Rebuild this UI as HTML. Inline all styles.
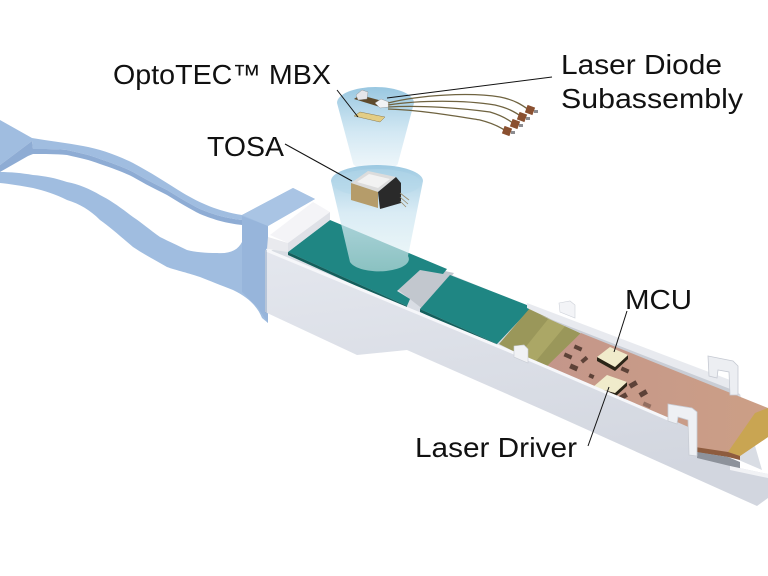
<!DOCTYPE html>
<html><head><meta charset="utf-8">
<style>
html,body{margin:0;padding:0;background:#fff;}
svg{display:block;}
text{font-family:"Liberation Sans",sans-serif;fill:#111;font-size:28px;}
</style></head><body>
<svg width="768" height="576" viewBox="0 0 768 576" xmlns="http://www.w3.org/2000/svg">
<defs>
<linearGradient id="face" x1="0" y1="0" x2="0.25" y2="1">
<stop offset="0" stop-color="#e4e7ee"/><stop offset="1" stop-color="#d2d6df"/>
</linearGradient>
<linearGradient id="cone" x1="0" y1="0" x2="0" y2="1">
<stop offset="0" stop-color="#93c4df" stop-opacity="0.95"/>
<stop offset="0.55" stop-color="#cbe4f1" stop-opacity="0.85"/>
<stop offset="1" stop-color="#eaf4f9" stop-opacity="0.75"/>
</linearGradient>
<linearGradient id="cone2" x1="0" y1="0" x2="0" y2="1">
<stop offset="0" stop-color="#97c6e0" stop-opacity="0.95"/>
<stop offset="0.45" stop-color="#d0e7f2" stop-opacity="0.8"/>
<stop offset="1" stop-color="#e2f2f4" stop-opacity="0.55"/>
</linearGradient>
<linearGradient id="copper" x1="0" y1="0" x2="1" y2="0">
<stop offset="0" stop-color="#c4968a"/><stop offset="1" stop-color="#cc9f86"/>
</linearGradient>
</defs>

<!-- blue pull tab -->
<path fill="#a0bde0" fill-rule="evenodd" d="
M0,120 L32,138 C50,141 67,143 83,146 C100,149 117,155 133,163 C150,172 167,183 183,193 C200,203 217,211 242,215 L293,188 L315,199 L268,226 L268,323 L262,318 C258,308 250,298 233,290 C220,285 210,281 200,277 C185,272 175,270 167,267 C155,260 145,255 133,247 C120,236 110,227 100,220 C90,210 80,204 67,200 C55,194 45,191 33,188 C22,186 10,184 0,183 Z
M0,165 L32,141 L33,149 C45,149 55,149 67,150 C80,153 90,155 100,159 C115,164 125,168 133,172 C145,179 155,184 167,190 C180,198 190,204 200,209 C215,215 225,218 242,220 L242,242 C238,250 230,254 217,253 C205,253 195,252 187,250 C177,245 170,242 160,237 C150,230 142,223 133,217 C120,207 110,200 100,195 C90,189 78,184 67,182 C55,178 45,176 33,175 C22,173 10,172 0,172 Z"/>
<!-- inner side face of upper arm -->
<path fill="#8eacd4" d="M33,149 C45,149 55,149 67,150 C80,153 90,155 100,159 C115,164 125,168 133,172 C145,179 155,184 167,190 C180,198 190,204 200,209 C215,215 225,218 242,220 L242,225 C225,223 215,220 200,214 C190,209 180,203 167,195 C155,189 145,184 133,177 C125,173 115,169 100,164 C90,160 80,158 67,155 C55,154 45,154 33,154 Z"/>
<polygon fill="#8eacd4" points="32,141 33,149 33,154 28,156 0,172 0,165"/>
<!-- block faces -->
<polygon fill="#97b5db" points="242,216 268,226 268,323 258,308 242,292"/>
<polygon fill="#a9c4e4" points="242,215 293,188 315,199 268,226"/>

<!-- interior floor -->
<polygon fill="#d9dde4" points="268,252 330,224 447,273 530,307 740,394 762,470 268,258"/>
<!-- gap between boards -->
<polygon fill="#c2c7ce" points="397,289 422,266 454,273 424,310"/>
<!-- teal board 1 -->
<polygon fill="#1f8683" points="288,252 330,220 447,269 443,274 420,270 397,291 410,299 407,306"/>
<polygon fill="#145f5c" points="288,252 407,306 407,309 288,255"/>
<!-- teal board 2 -->
<polygon fill="#1f8683" points="420,309 450,275 532,307 497,344"/>
<polygon fill="#145f5c" points="420,309 497,344 497,347 420,312"/>
<!-- olive -->
<polygon fill="#9a975a" points="499,344 530,308 582,332 547,368"/>
<polygon fill="#aba766" points="520,354 549,318 566,325 536,361"/>
<!-- back wall -->
<polygon fill="#e8eaef" points="527,303 738,383 738,397 580,333 527,308"/>
<polygon fill="#c9cdd5" points="540,315 738,392 738,397 580,333"/>
<polygon fill="#f3f4f7" stroke="#cfd3da" stroke-width="0.6" points="559,303 570,301 575,305 575,318 560,312"/>
<!-- copper pcb -->
<polygon fill="url(#copper)" points="545,368 581,333 768,408 768,437 740,456 728,456 695,450 680,430 550,372"/>
<polygon fill="#c9a552" points="728,452 755,413 768,408 768,437 740,456"/>
<polygon fill="#8e5c3e" points="695,447 728,452 740,456 740,460 728,457 695,452"/>
<!-- pads -->
<g fill="#5d4238">
<rect x="574" y="346" width="8" height="4" transform="rotate(24 578 348)"/>
<rect x="564" y="354" width="8" height="4" transform="rotate(24 568 356)"/>
<rect x="581" y="358" width="7" height="4" transform="rotate(-40 584 360)"/>
<rect x="570" y="365" width="8" height="5" transform="rotate(24 574 367)"/>
<rect x="589" y="374" width="5" height="4" transform="rotate(24 591 376)"/>
<rect x="621" y="368" width="8" height="4" transform="rotate(24 625 370)"/>
<rect x="629" y="382" width="8" height="5" transform="rotate(-30 633 384)"/>
<rect x="619" y="394" width="8" height="5" transform="rotate(-30 623 396)"/>
<rect x="639" y="391" width="8" height="5" transform="rotate(-30 643 393)"/>
<rect x="643" y="403" width="8" height="4" transform="rotate(24 647 405)" opacity="0.5"/>
</g>
<!-- chips -->
<polygon fill="#2b2518" points="597,357 615,367 628,355 628,359 615,371 597,361"/>
<polygon fill="#f0ebcb" points="597,357 610,347 628,355 615,367"/>
<polygon fill="#2b2518" points="593,387 615,393 627,382 627,386 615,397 593,391"/>
<polygon fill="#f0ebcb" points="593,387 607,375 627,382 615,393"/>
<!-- far hook -->
<polygon fill="#eceef2" stroke="#c5c9d2" stroke-width="0.8" points="708,356 733,361 738,366 738,395 730,395 729,372 718,370 717,378 709,376"/>

<!-- front wall face -->
<polygon fill="url(#face)" points="265,250 514,353 668,418 693,429 697,455 730,466 768,474 768,498 757,506 550,413 407,350 357,355 265,312"/>
<polyline fill="none" stroke="#f6f7fa" stroke-width="3" points="266,250 514,353 668,419"/>
<polygon fill="#8d929b" points="697,452 728,457 740,462 740,469 730,466 697,458"/>
<polygon fill="#f1f2f5" points="730,466 768,474 768,478 730,470"/>
<!-- front tab -->
<polygon fill="#f1f2f5" stroke="#c8ccd4" stroke-width="0.6" points="514,346 524,345 528,349 528,363 514,357"/>
<!-- near hook -->
<polygon fill="#eef0f4" stroke="#c8ccd4" stroke-width="0.8" points="668,404 692,408 697,412 697,456 689,455 688,420 678,417 677,424 668,421"/>
<!-- white block -->
<polygon fill="#f4f4f7" points="270,235 313,202 330,212 288,243"/>
<polygon fill="#e9eaee" points="268,237 288,243 288,252 267,249"/>
<polygon fill="#dfe1e7" points="288,243 330,212 330,220 288,252"/>
<line x1="266" y1="250" x2="266" y2="313" stroke="#8ea6c4" stroke-width="1"/>

<!-- cones -->
<path fill="url(#cone)" d="M337,103 A38.5,16 0 0 1 414,103 L398,163 A22.5,7 0 0 1 353,163 Z"/>
<path fill="url(#cone2)" d="M331,181 A46,16 0 0 1 423,181 L408,256 A29,12 0 0 1 350,262 Z"/>
<ellipse cx="377" cy="183" rx="44" ry="14" fill="#b4d8ea" opacity="0.5"/>

<!-- TOSA -->
<polygon fill="#dcdcdc" points="351,183 368,171 396,177 378,192"/>
<polygon fill="#f2f2f2" points="357,182 369,174 390,179 378,188"/>
<polygon fill="#b59c6a" points="351,183 378,192 378,208 351,200"/>
<polygon fill="#2a2a2a" points="378,192 396,177 401,183 401,203 380,209"/>
<g stroke="#9a8a6a" stroke-width="0.8">
<line x1="400" y1="193" x2="409" y2="200"/><line x1="400" y1="197" x2="408" y2="204"/><line x1="400" y1="201" x2="406" y2="207"/>
</g>

<!-- MBX parts -->
<polygon fill="#e3cd84" stroke="#8a7a50" stroke-width="0.5" points="354,116 360,112 385,117 380,122"/>
<polygon fill="#5e4a2c" points="354,99 360,95 386,102 380,107"/>
<polygon fill="#e6e6ea" stroke="#888" stroke-width="0.4" points="356,95 362,90 368,92 367,99 358,100"/>
<polygon fill="#f2f2f4" stroke="#888" stroke-width="0.4" points="375,103 381,99 389,102 389,107 380,108"/>

<!-- wires -->
<g fill="none" stroke="#6f6340" stroke-width="1.3">
<path d="M388,103 C420,95 470,92 500,97 C515,100 522,105 529,110"/>
<path d="M388,105 C420,100 465,100 495,105 C508,108 515,112 522,117"/>
<path d="M388,107 C420,105 460,108 490,112 C500,115 508,119 514,124"/>
<path d="M388,109 C420,110 455,116 480,120 C492,123 500,127 506,131"/>
</g>
<g fill="#8a5030">
<rect x="526" y="106" width="8" height="8" transform="rotate(20 530 110)"/>
<rect x="518" y="113" width="8" height="8" transform="rotate(20 522 117)"/>
<rect x="511" y="120" width="8" height="8" transform="rotate(20 515 124)"/>
<rect x="503" y="127" width="8" height="8" transform="rotate(20 507 131)"/>
</g>
<g fill="#8c8c90">
<rect x="534" y="110" width="4" height="3"/><rect x="526" y="117" width="4" height="3"/>
<rect x="519" y="124" width="4" height="3"/><rect x="511" y="131" width="4" height="3"/>
</g>

<!-- leader lines -->
<g stroke="#111" stroke-width="1" fill="none">
<line x1="337" y1="90" x2="358" y2="117"/>
<line x1="387" y1="98" x2="552" y2="77"/>
<line x1="285" y1="144" x2="352" y2="181"/>
<line x1="627" y1="311" x2="614" y2="352"/>
<line x1="588" y1="446" x2="609" y2="387"/>
</g>

<!-- labels -->
<text x="113" y="84" textLength="218" lengthAdjust="spacingAndGlyphs">OptoTEC™ MBX</text>
<text x="207" y="156" textLength="77" lengthAdjust="spacingAndGlyphs">TOSA</text>
<text x="561" y="74" textLength="161" lengthAdjust="spacingAndGlyphs">Laser Diode</text>
<text x="561" y="108" textLength="182" lengthAdjust="spacingAndGlyphs">Subassembly</text>
<text x="625" y="309" textLength="67" lengthAdjust="spacingAndGlyphs">MCU</text>
<text x="415" y="457" textLength="162" lengthAdjust="spacingAndGlyphs">Laser Driver</text>
</svg>
</body></html>
